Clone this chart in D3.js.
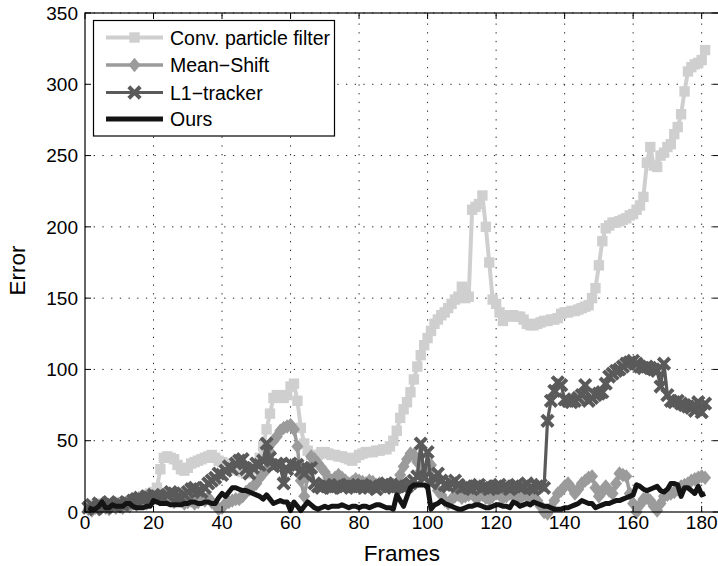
<!DOCTYPE html>
<html><head><meta charset="utf-8">
<script src="https://cdn.jsdelivr.net/npm/d3@7"></script>
<style>
html,body{margin:0;padding:0;background:#fff;}
svg{display:block;font-family:"Liberation Sans",Arial,Helvetica,sans-serif;}
</style></head>
<body>
<svg id="chart" width="718" height="566"></svg>
<script>
const frames = d3.range(1, 182);
const xTicks = [0,20,40,60,80,100,120,140,160,180];
const yTicks = [0,50,100,150,200,250,300,350];
const seriesNames = ["Conv. particle filter","Mean\u2212Shift","L1\u2212tracker","Ours"];

const convPF = [
4,5,3,6,5,4,6,5,7,6,
6,5,7,6,8,10,11,12,13,14,
17,30,38,39,38,37,33,30,29,31,
34,35,36,37,38,39,40,38,36,35,
34,33,31,30,29,28,27,28,30,33,
38,46,58,69,80,82,81,80,82,88,
90,78,59,48,43,40,39,40,42,42,
41,40,40,39,39,38,37,36,38,40,
41,42,42,42,43,43,44,44,46,50,
57,66,72,77,84,93,102,110,117,122,
127,132,135,138,140,143,146,149,151,158,
150,151,212,214,216,222,200,175,149,146,
140,134,137,138,138,137,137,135,132,131,
131,132,133,134,134,135,135,136,139,140,
140,141,141,142,143,144,145,150,157,173,
190,199,201,203,203,204,205,206,208,209,
212,215,221,245,256,243,242,250,252,256,
258,265,270,279,295,309,312,314,315,317,
324];

const meanShift = [
2,1,3,2,4,3,2,5,3,4,
3,5,4,6,5,7,8,6,9,10,
11,9,12,10,8,7,9,8,6,7,
8,6,7,9,8,10,7,5,2,3,
6,7,8,9,9,11,14,16,18,20,
24,27,30,42,50,53,57,59,60,61,
58,46,22,11,25,39,37,34,31,28,
24,22,24,26,24,22,20,21,23,22,
21,20,22,21,19,20,18,19,20,19,
20,26,32,37,41,40,35,29,27,30,
33,20,15,12,8,6,9,11,12,10,
11,12,13,10,11,12,10,9,11,13,
12,10,11,13,12,11,10,12,11,10,
9,8,4,0,-1,3,8,13,15,18,
20,17,13,16,20,22,24,25,17,11,
14,18,15,13,20,27,26,25,13,6,
0,5,9,10,8,4,1,6,11,12,
13,14,16,18,19,20,22,23,24,25,
24];

const l1Tracker = [
3,5,2,6,4,3,7,5,4,6,
5,7,6,8,9,10,9,11,10,12,
11,10,9,12,14,13,11,10,12,14,
16,17,15,14,17,20,22,24,27,26,
29,32,30,34,36,37,30,27,31,34,
33,36,48,38,32,34,33,20,30,34,
32,33,29,27,30,31,20,18,17,19,
18,17,18,19,17,18,19,18,17,18,
19,18,17,18,16,18,19,20,18,17,
18,19,17,18,20,22,25,48,24,42,
20,24,27,22,19,18,20,22,19,17,
18,17,16,18,19,17,18,16,17,18,
19,17,18,16,18,19,17,18,20,17,
16,18,19,17,64,78,85,91,89,79,
78,77,78,80,82,89,78,80,82,83,
84,90,95,97,99,100,102,104,105,106,
104,102,101,102,101,100,99,88,104,82,
78,77,78,76,75,74,73,71,77,70,
76];

const ours = [
3,2,2,4,7,3,3,5,4,4,
4,6,6,4,3,3,3,4,4,8,
7,6,6,6,5,5,5,5,6,6,
7,7,6,6,7,7,6,6,10,13,
11,14,17,17,16,15,15,14,13,12,
11,9,12,9,6,7,8,7,7,1,
7,4,1,4,7,5,3,2,3,4,
3,4,4,4,5,4,3,4,4,3,
4,4,3,4,5,5,4,3,3,2,
12,8,4,11,17,19,19,19,19,18,
2,5,6,8,6,5,4,3,2,2,
3,4,4,5,5,4,3,3,4,5,
5,4,4,3,7,6,4,5,6,5,
7,6,5,4,4,3,2,2,2,3,
3,4,5,6,8,7,6,6,3,4,
5,6,6,7,8,8,9,10,11,12,
19,18,16,15,16,17,18,15,14,16,
20,20,19,11,17,17,15,13,18,12,
13];

const svg = d3.select("#chart");
const L = 85, R = 718.8, T = 13, B = 512;
const x = d3.scaleLinear().domain([0,185]).range([L,R]);
const y = d3.scaleLinear().domain([0,350]).range([B,T]);

// grid
const grid = svg.append("g");
grid.selectAll("line.gx").data(xTicks.filter(d=>d>0)).join("line")
  .attr("x1",d=>x(d)).attr("x2",d=>x(d)).attr("y1",B).attr("y2",T)
  .attr("stroke","#222").attr("stroke-width",1).attr("stroke-dasharray","1.3,7.4");
grid.selectAll("line.gy").data(yTicks.filter(d=>d>0)).join("line")
  .attr("y1",d=>y(d)).attr("y2",d=>y(d)).attr("x1",L).attr("x2",R)
  .attr("stroke","#222").attr("stroke-width",1).attr("stroke-dasharray","1.3,7.4");

const squarePath = "M-5.2,-5.2H5.2V5.2H-5.2Z";
const diamondPath = "M0,-7.2L6,0L0,7.2L-6,0Z";
const crossPath = "M-4.3,-4.3L4.3,4.3M-4.3,4.3L4.3,-4.3";

const series = [
  {name:seriesNames[0], data:convPF, color:"#cfcfcf", width:4, marker:"square"},
  {name:seriesNames[1], data:meanShift, color:"#9b9b9b", width:3.5, marker:"diamond"},
  {name:seriesNames[2], data:l1Tracker, color:"#5a5a5a", width:3.2, marker:"cross"},
  {name:seriesNames[3], data:ours, color:"#141414", width:5, marker:"none"}
];

const line = d3.line().x((d,i)=>x(frames[i])).y(d=>y(d));

function drawMarker(g, type, color){
  if(type==="square") g.append("path").attr("d",squarePath).attr("fill",color);
  else if(type==="diamond") g.append("path").attr("d",diamondPath).attr("fill",color);
  else if(type==="cross") g.append("path").attr("d",crossPath).attr("fill","none")
      .attr("stroke",color).attr("stroke-width",4).attr("stroke-linecap","square");
}

const plot = svg.append("g");
series.forEach(s=>{
  const g = plot.append("g");
  g.append("path").datum(s.data).attr("d",line).attr("fill","none")
    .attr("stroke",s.color).attr("stroke-width",s.width).attr("stroke-linejoin","round");
  if(s.marker!=="none"){
    g.selectAll("g.m").data(s.data).join("g")
      .attr("transform",(d,i)=>`translate(${x(frames[i])},${y(d)})`)
      .each(function(){ drawMarker(d3.select(this), s.marker, s.color); });
  }
});

// axes box and ticks
const ax = svg.append("g").attr("font-size","19px").attr("fill","#000");
ax.append("rect").attr("x",L).attr("y",T).attr("width",R-L).attr("height",B-T)
  .attr("fill","none").attr("stroke","#000").attr("stroke-width",1.2);
const tl = 6;
xTicks.forEach(t=>{
  ax.append("line").attr("x1",x(t)).attr("x2",x(t)).attr("y1",B).attr("y2",B-tl).attr("stroke","#000");
  ax.append("line").attr("x1",x(t)).attr("x2",x(t)).attr("y1",T).attr("y2",T+tl).attr("stroke","#000");
  ax.append("text").attr("x",x(t)).attr("y",529).attr("text-anchor","middle").text(t);
});
yTicks.forEach(t=>{
  ax.append("line").attr("x1",L).attr("x2",L+tl).attr("y1",y(t)).attr("y2",y(t)).attr("stroke","#000");
  ax.append("line").attr("x1",R).attr("x2",R-tl).attr("y1",y(t)).attr("y2",y(t)).attr("stroke","#000");
  ax.append("text").attr("x",78).attr("y",y(t)).attr("dy","0.35em").attr("text-anchor","end").text(t);
});
svg.append("text").attr("x",(L+R)/2).attr("y",561).attr("text-anchor","middle")
  .attr("font-size","22.5px").text("Frames");
svg.append("text").attr("transform",`translate(25,${(T+B)/2+8}) rotate(-90)`)
  .attr("text-anchor","middle").attr("font-size","22.5px").text("Error");

// legend
const lg = svg.append("g");
lg.append("rect").attr("x",93.5).attr("y",20.5).attr("width",241).attr("height",115.5)
  .attr("fill","#fff").attr("stroke","#000").attr("stroke-width",1.2);
const ly = [37.5,65,92.5,119];
series.forEach((s,i)=>{
  const g = lg.append("g");
  g.append("line").attr("x1",106).attr("x2",163).attr("y1",ly[i]).attr("y2",ly[i])
    .attr("stroke",s.color).attr("stroke-width",s.width);
  const mg = g.append("g").attr("transform",`translate(134.5,${ly[i]})`);
  drawMarker(mg, s.marker, s.color);
  g.append("text").attr("x",170).attr("y",ly[i]).attr("dy","0.36em")
    .attr("font-size","19.5px").text(s.name);
});
</script>
</body></html>
